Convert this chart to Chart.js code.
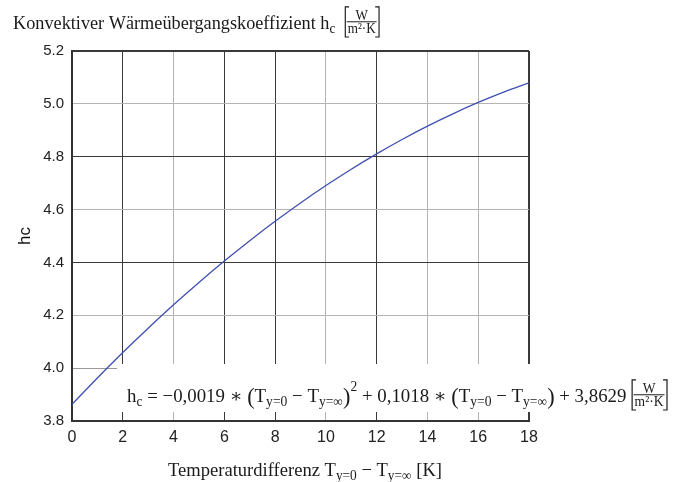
<!DOCTYPE html>
<html>
<head>
<meta charset="utf-8">
<script src="https://cdn.jsdelivr.net/npm/chart.js@4/dist/chart.umd.min.js"></script>
<style>
  html, body { margin: 0; padding: 0; background: #fff; }
  #wrap { width: 684px; height: 482px; }
</style>
</head>
<body>
<div id="wrap"><canvas id="c" width="684" height="482"></canvas></div>
<script>
// Temperature difference T(y=0) - T(y=inf) in K
const deltaT = [0, 1, 2, 3, 4, 5, 6, 7, 8, 9, 10, 11, 12, 13, 14, 15, 16, 17, 18];
// Convective heat transfer coefficient hc in W/(m²·K)
const hcValues = [3.8629, 3.9628, 4.0589, 4.1512, 4.2397, 4.3244, 4.4053, 4.4824, 4.5557,
                  4.6252, 4.6909, 4.7528, 4.8109, 4.8652, 4.9157, 4.9624, 5.0053, 5.0444, 5.0797];

const xRange = [0, 18], xStep = 2;
const yRange = [3.8, 5.2], yStep = 0.2;

const SERIF = '"Liberation Serif", "DejaVu Serif", serif';
const SANS = '"Liberation Sans", Arial, sans-serif';
const INK = '#1a1a1a';

// Rich text pieces: plain, subscript, superscript, enlarged brackets, bracketed unit fraction
const titlePieces = [
  { t: 'Konvektiver Wärmeübergangskoeffizient h' }, { t: 'c', sub: 1 }, { t: '  ' },
  { frac: ['W', 'm²·K'] }
];
const equationPieces = [
  { t: 'h' }, { t: 'c', sub: 1 }, { t: ' = −0,0019 ∗ ' },
  { t: '(', big: 1 }, { t: 'T' }, { t: 'y=0', sub: 1 }, { t: ' − T' }, { t: 'y=∞', sub: 1 }, { t: ')', big: 1 },
  { t: '2', sup: 1 }, { t: ' + 0,1018 ∗ ' },
  { t: '(', big: 1 }, { t: 'T' }, { t: 'y=0', sub: 1 }, { t: ' − T' }, { t: 'y=∞', sub: 1 }, { t: ')', big: 1 },
  { t: ' + 3,8629 ' }, { frac: ['W', 'm²·K'] }
];
const xTitlePieces = [
  { t: 'Temperaturdifferenz T' }, { t: 'y=0', sub: 1 }, { t: ' − T' }, { t: 'y=∞', sub: 1 }, { t: ' [K]' }
];

function serifFont(size) { return size.toFixed(2) + 'px ' + SERIF; }

// Lays out (and optionally draws) a run of rich-text pieces starting at x on baseline y.
function runRich(ctx, pieces, x, y, size, draw) {
  let cx = x;
  ctx.fillStyle = INK;
  ctx.strokeStyle = INK;
  ctx.textBaseline = 'alphabetic';
  ctx.textAlign = 'left';
  for (const p of pieces) {
    if (p.frac) {
      const fs = size * 0.72;
      ctx.font = serifFont(fs);
      const wn = ctx.measureText(p.frac[0]).width;
      const wd = ctx.measureText(p.frac[1]).width;
      const inner = Math.max(wn, wd) + 2;
      const arm = 4, gap = 1.5;
      const top = y - size * 1.16, bottom = y + size * 0.42;
      const lineY = y - size * 0.38;
      if (draw) {
        ctx.lineWidth = 1.2;
        ctx.beginPath();
        ctx.moveTo(cx + 1 + arm, top); ctx.lineTo(cx + 1, top); ctx.lineTo(cx + 1, bottom); ctx.lineTo(cx + 1 + arm, bottom);
        const rx = cx + 1 + gap + inner + gap + 1;
        ctx.moveTo(rx - arm, top); ctx.lineTo(rx, top); ctx.lineTo(rx, bottom); ctx.lineTo(rx - arm, bottom);
        ctx.stroke();
        const ix = cx + 1 + gap;
        ctx.beginPath();
        ctx.lineWidth = 1;
        ctx.moveTo(ix, lineY); ctx.lineTo(ix + inner, lineY);
        ctx.stroke();
        ctx.fillText(p.frac[0], ix + (inner - wn) / 2, lineY - 2);
        ctx.fillText(p.frac[1], ix + (inner - wd) / 2, lineY + fs * 0.72 + 1.5);
      }
      cx += 1 + gap + inner + gap + 2;
      continue;
    }
    let fs = size, by = y;
    if (p.sub) { fs = size * 0.72; by = y + size * 0.2; }
    else if (p.sup) { fs = size * 0.72; by = y - size * 0.6; }
    else if (p.big) { fs = size * 1.18; by = y + size * 0.08; }
    ctx.font = serifFont(fs);
    if (draw) ctx.fillText(p.t, cx, by);
    cx += ctx.measureText(p.t).width;
  }
  return cx - x;
}

// Draws a rich-text run squeezed horizontally to fit between x0 and x1.
function drawFitted(ctx, pieces, x0, x1, baseline, size) {
  ctx.save();
  const w = runRich(ctx, pieces, 0, baseline, size, false);
  ctx.translate(x0, 0);
  ctx.scale((x1 - x0) / w, 1);
  runRich(ctx, pieces, 0, baseline, size, true);
  ctx.restore();
}

const textBlocks = {
  id: 'textBlocks',
  afterDraw(chart) {
    const ctx = chart.ctx;
    // title above the plot
    drawFitted(ctx, titlePieces, 13, 380, 29, 19);
    // x axis title
    drawFitted(ctx, xTitlePieces, 168, 442, 476, 19);
    // equation on a white panel
    const eqX0 = 127, eqX1 = 668, eqBase = 402;
    ctx.save();
    ctx.fillStyle = '#ffffff';
    ctx.fillRect(eqX0 - 10, eqBase - 38, chart.width - (eqX0 - 10), 48);
    ctx.restore();
    drawFitted(ctx, equationPieces, eqX0, eqX1, eqBase, 19);
  }
};

const darkX = [0, 2, 6, 8, 12, 18];
const darkY = [38, 44, 48, 52];

new Chart(document.getElementById('c'), {
  type: 'line',
  data: {
    datasets: [{
      data: deltaT.map((x, i) => ({ x, y: hcValues[i] })),
      borderColor: '#3f4fb0',
      borderWidth: 1.3,
      pointRadius: 0,
      cubicInterpolationMode: 'monotone',
      fill: false
    }]
  },
  options: {
    responsive: false,
    animation: false,
    layout: { padding: { left: 0, top: 51, right: 155, bottom: 0 } },
    plugins: { legend: { display: false }, tooltip: { enabled: false } },
    scales: {
      x: {
        type: 'linear',
        min: xRange[0], max: xRange[1],
        afterFit(scale) { scale.height = 61; },
        ticks: { stepSize: xStep, padding: 7, color: '#222', font: { family: SANS, size: 16 } },
        grid: {
          drawTicks: false,
          color: c => darkX.includes(c.tick.value) ? '#3a3a3a' : '#b4b4b4',
          lineWidth: c => (c.tick.value === xRange[1]) ? 2 : 1
        },
        border: { color: '#333', width: 2 }
      },
      y: {
        type: 'linear',
        min: yRange[0], max: yRange[1],
        afterFit(scale) { scale.width = 72; },
        ticks: {
          stepSize: yStep, padding: 8, color: '#222', font: { family: SANS, size: 15 },
          callback: v => v.toFixed(1)
        },
        title: { display: true, text: 'hc', color: '#111', font: { family: SANS, size: 17 }, padding: { top: 15, bottom: 0 } },
        grid: {
          drawTicks: false,
          color: c => {
            const k = Math.round(c.tick.value * 10);
            if (darkY.includes(k)) return '#3a3a3a';
            if (k === 40) return '#999';
            return '#b4b4b4';
          },
          lineWidth: c => (Math.round(c.tick.value * 10) === 52) ? 2 : 1
        },
        border: { color: '#333', width: 2 }
      }
    }
  },
  plugins: [textBlocks]
});
</script>
</body>
</html>
